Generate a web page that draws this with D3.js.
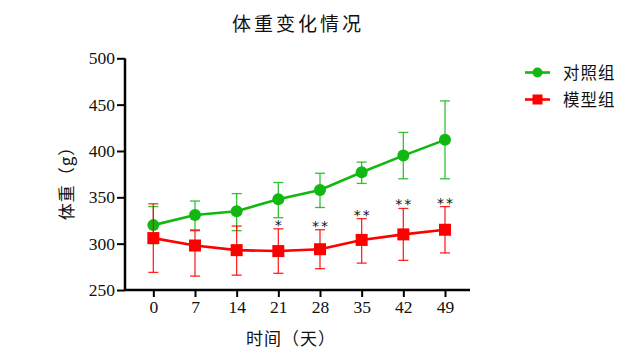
<!DOCTYPE html>
<html><head><meta charset="utf-8">
<script src="https://cdn.jsdelivr.net/npm/d3@7"></script>
<style>body{margin:0;background:#fff}</style>
</head><body>
<svg id="c" width="641" height="355"></svg>
<script>
const days = [0, 7, 14, 21, 28, 35, 42, 49];
const controlMean = [320, 331, 335, 348, 358, 377, 395, 412];
const controlUpper = [340, 346, 354, 366, 376, 388, 420, 454];
const controlLower = [300, 315, 314, 328, 339, 365, 370, 370];
const modelMean = [306, 298, 293, 292, 294, 304, 310, 315];
const modelUpper = [343, 314, 319, 316, 315, 327, 338, 340];
const modelLower = [269, 265, 266, 268, 273, 279, 282, 290];
const signif = ["", "", "", "*", "**", "**", "**", "**"];
const yTicks = [250, 300, 350, 400, 450, 500];
const seriesNames = ["对照组", "模型组"];
const title = "体重变化情况";
const xLabel = "时间（天）";
const yLabel = "体重（g）";

const green = "#12B812", red = "#FF0000";
const svg = d3.select("#c");
const x = d3.scaleLinear().domain([-4.76, 53.2]).range([125, 470]);
const y = d3.scaleLinear().domain([250, 500]).range([290, 58.3]);
const numFont = "'Liberation Serif', 'DejaVu Serif', serif";
const cjk = "'Noto Sans CJK SC', sans-serif";

// axes
const yAx = svg.append("g").attr("transform", "translate(125,0)")
  .call(d3.axisLeft(y).tickValues(yTicks).tickSize(8).tickPadding(2).tickFormat(d3.format("d")));
const xAx = svg.append("g").attr("transform", "translate(0,290)")
  .call(d3.axisBottom(x).tickValues(days).tickSize(7).tickPadding(4).tickFormat(d3.format("d")));
[yAx, xAx].forEach(a => {
  a.select(".domain").attr("stroke", "#000").attr("stroke-width", 2.5);
  a.selectAll(".tick line").attr("stroke", "#000").attr("stroke-width", 2);
  a.selectAll("text").attr("font-family", numFont).attr("font-size", 17.5).attr("fill", "#111");
});
xAx.select(".domain").attr("d", "M125,0H470");
yAx.select(".domain").attr("d", "M0,290V58.3");

function drawSeries(mean, upper, lower, color, shape) {
  const g = svg.append("g");
  days.forEach((d, i) => {
    const cx = x(d);
    g.append("line").attr("x1", cx).attr("x2", cx).attr("y1", y(upper[i])).attr("y2", y(lower[i]))
      .attr("stroke", color).attr("stroke-width", 1.3).attr("opacity", 0.85);
    [upper[i], lower[i]].forEach(v => g.append("line").attr("x1", cx - 5).attr("x2", cx + 5)
      .attr("y1", y(v)).attr("y2", y(v)).attr("stroke", color).attr("stroke-width", 1.3).attr("opacity", 0.85));
  });
  g.append("path").datum(mean.map((v, i) => [x(days[i]), y(v)]))
    .attr("d", d3.line()).attr("fill", "none").attr("stroke", color).attr("stroke-width", 2.6);
  days.forEach((d, i) => {
    if (shape === "circle") g.append("circle").attr("cx", x(d)).attr("cy", y(mean[i])).attr("r", 6).attr("fill", color);
    else g.append("rect").attr("x", x(d) - 6).attr("y", y(mean[i]) - 6).attr("width", 12).attr("height", 12).attr("fill", color);
  });
}
drawSeries(controlMean, controlUpper, controlLower, green, "circle");
drawSeries(modelMean, modelUpper, modelLower, red, "rect");

// significance stars
svg.append("g").selectAll("text").data(days).join("text")
  .attr("x", d => x(d) + 1).attr("y", (d, i) => y(modelUpper[i]) + 1)
  .attr("text-anchor", "middle").attr("font-family", "'DejaVu Sans', sans-serif").attr("font-size", 14)
  .attr("letter-spacing", 2).attr("fill", "#111")
  .text((d, i) => signif[i]);

// title & labels
svg.append("text").attr("x", 298).attr("y", 31).attr("text-anchor", "middle")
  .attr("font-family", cjk).attr("font-size", 19).attr("letter-spacing", 3).attr("fill", "#111").text(title);
svg.append("text").attr("x", 291).attr("y", 345).attr("text-anchor", "middle")
  .attr("font-family", cjk).attr("font-size", 17).attr("letter-spacing", 1).attr("fill", "#111").text(xLabel);
svg.append("text").attr("transform", "translate(73,179) rotate(-90)").attr("text-anchor", "middle")
  .attr("font-family", cjk).attr("font-size", 17).attr("letter-spacing", 1).attr("fill", "#111").text(yLabel);

// legend
const lg = svg.append("g");
[[green, "circle"], [red, "rect"]].forEach(([c, s], i) => {
  const ly = 72.5 + i * 27;
  lg.append("line").attr("x1", 525).attr("x2", 550).attr("y1", ly).attr("y2", ly).attr("stroke", c).attr("stroke-width", 2.6);
  if (s === "circle") lg.append("circle").attr("cx", 537.5).attr("cy", ly).attr("r", 5).attr("fill", c);
  else lg.append("rect").attr("x", 532.5).attr("y", ly - 5).attr("width", 10).attr("height", 10).attr("fill", c);
  lg.append("text").attr("x", 563).attr("y", ly + 6).attr("font-family", cjk).attr("font-size", 16.5)
    .attr("letter-spacing", 1).attr("fill", "#111").text(seriesNames[i]);
});
</script>
</body></html>
